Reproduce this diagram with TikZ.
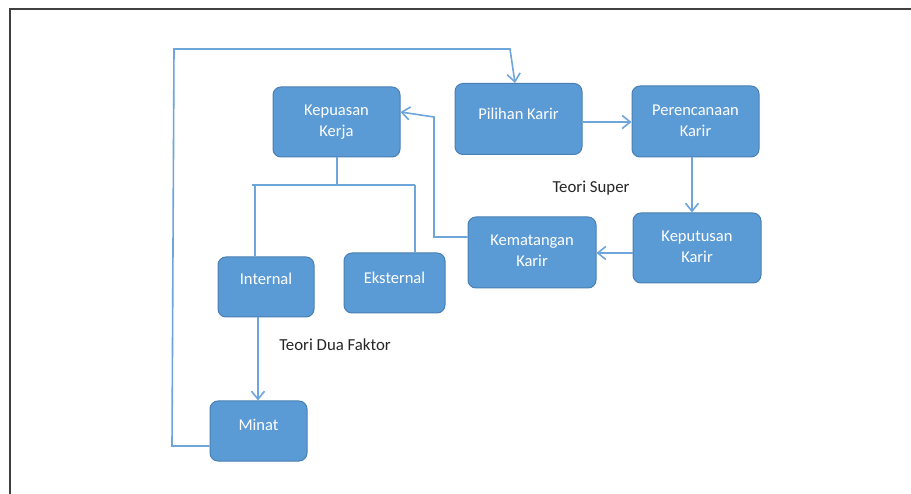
\documentclass[tikz,border=0pt]{standalone}
\usepackage{fontspec}
\setmainfont{Carlito}
\usetikzlibrary{arrows.meta}
\definecolor{boxfill}{HTML}{5B9BD5}
\definecolor{boxline}{HTML}{4A7FB2}
\definecolor{conncol}{HTML}{6EA6DB}
\definecolor{framecol}{HTML}{404040}
\definecolor{labcol}{HTML}{262626}
\tikzset{
  box/.style={draw=boxline, line width=1pt, fill=boxfill, rounded corners=8pt, inner sep=0pt},
  boxtext/.style={text=white, font=\fontsize{16.5}{21}\selectfont, align=center, inner sep=0pt},
  conn/.style={draw=conncol, line width=1.6pt},
  arr/.style={conn, -{Straight Barb[length=8pt,width=13pt,line width=1.6pt]}},
  lab/.style={text=labcol, font=\fontsize{16.8}{20}\selectfont, inner sep=0pt}
}
\begin{document}
\begin{tikzpicture}[x=1pt, y=-1pt]
\useasboundingbox (0,0) rectangle (911,494);
\fill[white] (0,0) rectangle (911,494);
\draw[framecol, line width=1.6pt] (10,494) -- (10,9) -- (911,9);

% boxes
\node[box, minimum width=127pt, minimum height=70pt] (kep) at (336.5,122) {};
\node[box, minimum width=127pt, minimum height=71pt] (pil) at (518.5,119) {};
\node[box, minimum width=127pt, minimum height=71pt] (per) at (695.5,121.5) {};
\node[box, minimum width=128pt, minimum height=70pt] (kepu) at (697,248) {};
\node[box, minimum width=128pt, minimum height=71pt] (kem) at (532,252.5) {};
\node[box, minimum width=96pt, minimum height=60pt] (int) at (266,287) {};
\node[box, minimum width=101pt, minimum height=60pt] (eks) at (394.5,283) {};
\node[box, minimum width=97pt, minimum height=60pt] (min) at (258.5,431) {};

% box texts
\node[boxtext] (kept) at (336.5,122) {Kepuasan\\Kerja};
\node[boxtext] (pilt) at (518.5,114) {Pilihan Karir};
\node[boxtext] (pert) at (695.5,120.5) {Perencanaan\\Karir};
\node[boxtext] (keput) at (697,247) {Keputusan\\Karir};
\node[boxtext] (kemt) at (532,251) {Kematangan\\Karir};
\node[boxtext] (intt) at (266,278.5) {Internal};
\node[boxtext] (ekst) at (394.5,277.5) {Eksternal};
\node[boxtext] (mint) at (258.5,425) {Minat};

% labels
\node[lab] (tsuper) at (591,188) {Teori Super};
\node[lab] (tdua) at (335,345) {Teori Dua Faktor};

% connectors
\coordinate (l1) at (172,446);
\coordinate (l2) at (174,49);
\coordinate (l3) at (510,49);
\draw[arr] (min.west |- 0,446) -- (l1) -- (l2) -- (l3) -- (pil.north -| 515,0);
\draw[arr] (pil.east |- 0,122) -- (per.west |- 0,122);
\draw[arr] (per.south -| 692,0) -- (kepu.north -| 692,0);
\draw[arr] (kepu.west |- 0,253) -- (kem.east |- 0,253);
\coordinate (m1) at (434,237);
\coordinate (m2) at (434,117);
\draw[arr] (kem.west |- 0,237) -- (m1) -- (m2) -- (kep.east |- 0,112);
\coordinate (t0) at (337,185);
\coordinate (tl) at (252,185);
\coordinate (tr) at (415,185);
\coordinate (tli) at (255,185);
\draw[conn] (kep.south -| 337,0) -- (t0);
\draw[conn] (tl) -- (tr);
\draw[conn] (tli) -- (int.north -| 255,0);
\draw[conn] (tr) -- (eks.north -| 415,0);
\draw[arr] (int.south -| 258,0) -- (min.north -| 258,0);
\end{tikzpicture}
\end{document}
